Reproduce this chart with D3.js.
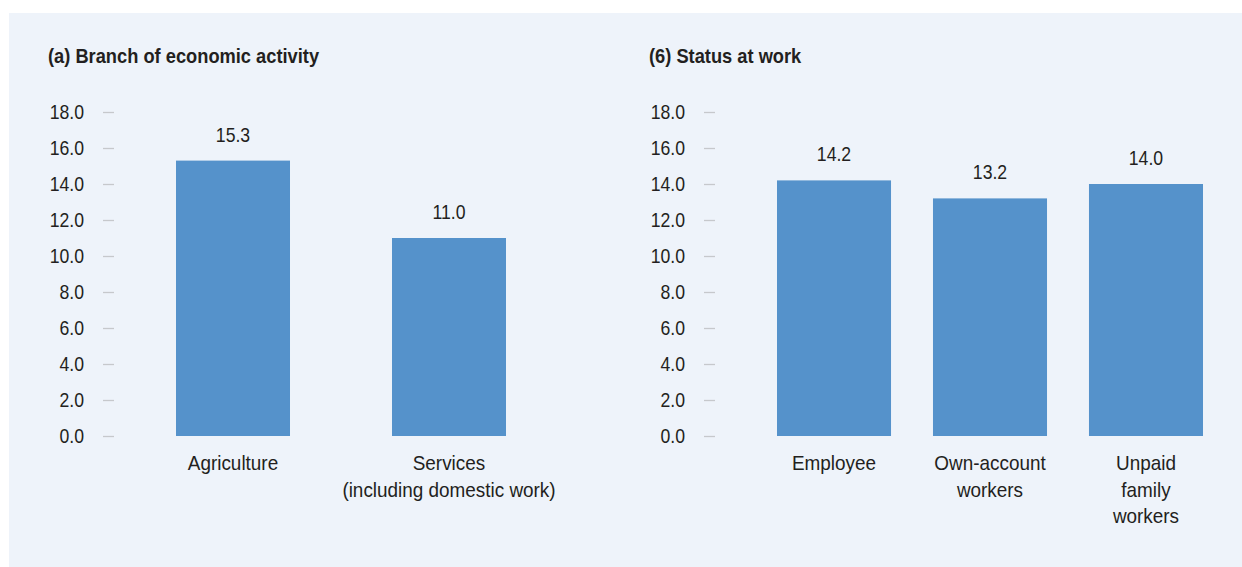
<!DOCTYPE html>
<html>
<head>
<meta charset="utf-8">
<script src="https://cdn.jsdelivr.net/npm/d3@7"></script>
<style>
  body { margin: 0; background: #ffffff; }
  svg text { font-family: "Liberation Sans", Arial, sans-serif; fill: #231f20; }
</style>
</head>
<body>
<div id="grafico"></div>
<script>
var width = 1242, height = 567;

// dati pannello (a)
var branchCategories = [['Agriculture'], ['Services', '(including domestic work)']];
var branchValues = [15.3, 11.0];
// dati pannello (b)
var statusCategories = [['Employee'], ['Own-account', 'workers'], ['Unpaid', 'family', 'workers']];
var statusValues = [14.2, 13.2, 14.0];
var yTicks = [0, 2, 4, 6, 8, 10, 12, 14, 16, 18];

var svg = d3.select('#grafico').append('svg').attr('width', width).attr('height', height);
svg.append('rect').attr('x', 9).attr('y', 13).attr('width', width - 9).attr('height', height - 13).attr('fill', '#eef3fa');

var y = d3.scaleLinear().domain([0, 18]).range([436, 112]);

// il font condensato non c'è: stringo il testo in orizzontale
function condense(sel, k) {
    sel.each(function() {
        var w = this.getComputedTextLength();
        d3.select(this).attr('textLength', w * k).attr('lengthAdjust', 'spacingAndGlyphs');
    });
}

function drawPanel(opts) {
    var g = svg.append('g');
    g.append('text')
        .attr('x', opts.titleX).attr('y', 63)
        .attr('font-size', 21).attr('font-weight', 'bold')
        .text(opts.title)
        .call(condense, 0.87);

    // asse y
    var axis = d3.axisLeft(y).tickValues(yTicks).tickFormat(d3.format('.1f')).tickSize(11).tickPadding(19);
    var ax = g.append('g').attr('transform', 'translate(' + opts.axisX + ',0)').call(axis);
    ax.select('.domain').remove();
    ax.selectAll('.tick line').attr('stroke', '#c6c8cc').attr('stroke-width', 1.3);
    ax.selectAll('.tick text').attr('font-size', 21).attr('fill', '#231f20')
        .attr('font-family', '"Liberation Sans", Arial, sans-serif')
        .call(condense, 0.84);

    var x = d3.scaleBand().domain(d3.range(opts.values.length))
        .range(opts.range).paddingInner(opts.padIn).paddingOuter(opts.padOut);

    g.selectAll('rect.bar').data(opts.values).enter().append('rect')
        .attr('class', 'bar')
        .attr('x', (d, i) => x(i)).attr('width', x.bandwidth())
        .attr('y', d => y(d)).attr('height', d => y(0) - y(d))
        .attr('fill', '#5592cb');

    g.selectAll('text.val').data(opts.values).enter().append('text')
        .attr('class', 'val')
        .attr('x', (d, i) => x(i) + x.bandwidth() / 2)
        .attr('y', d => y(d) - 19)
        .attr('text-anchor', 'middle').attr('font-size', 21)
        .text(d => d3.format('.1f')(d))
        .call(condense, 0.84);

    opts.categories.forEach(function(lines, i) {
        lines.forEach(function(l, j) {
            g.append('text')
                .attr('class', 'cat')
                .attr('x', x(i) + x.bandwidth() / 2)
                .attr('y', 470 + j * 26.5)
                .attr('text-anchor', 'middle').attr('font-size', 21)
                .text(l)
                .call(condense, 0.9);
        });
    });
}

drawPanel({
    title: '(a) Branch of economic activity', titleX: 48, axisX: 114,
    categories: branchCategories, values: branchValues,
    range: [111.2, 570.8], padIn: 0.4722, padOut: 0.3
});
drawPanel({
    title: '(6) Status at work', titleX: 649, axisX: 715,
    categories: statusCategories, values: statusValues,
    range: [745.8, 1234.2], padIn: 0.269, padOut: 0.2
});
</script>
</body>
</html>
